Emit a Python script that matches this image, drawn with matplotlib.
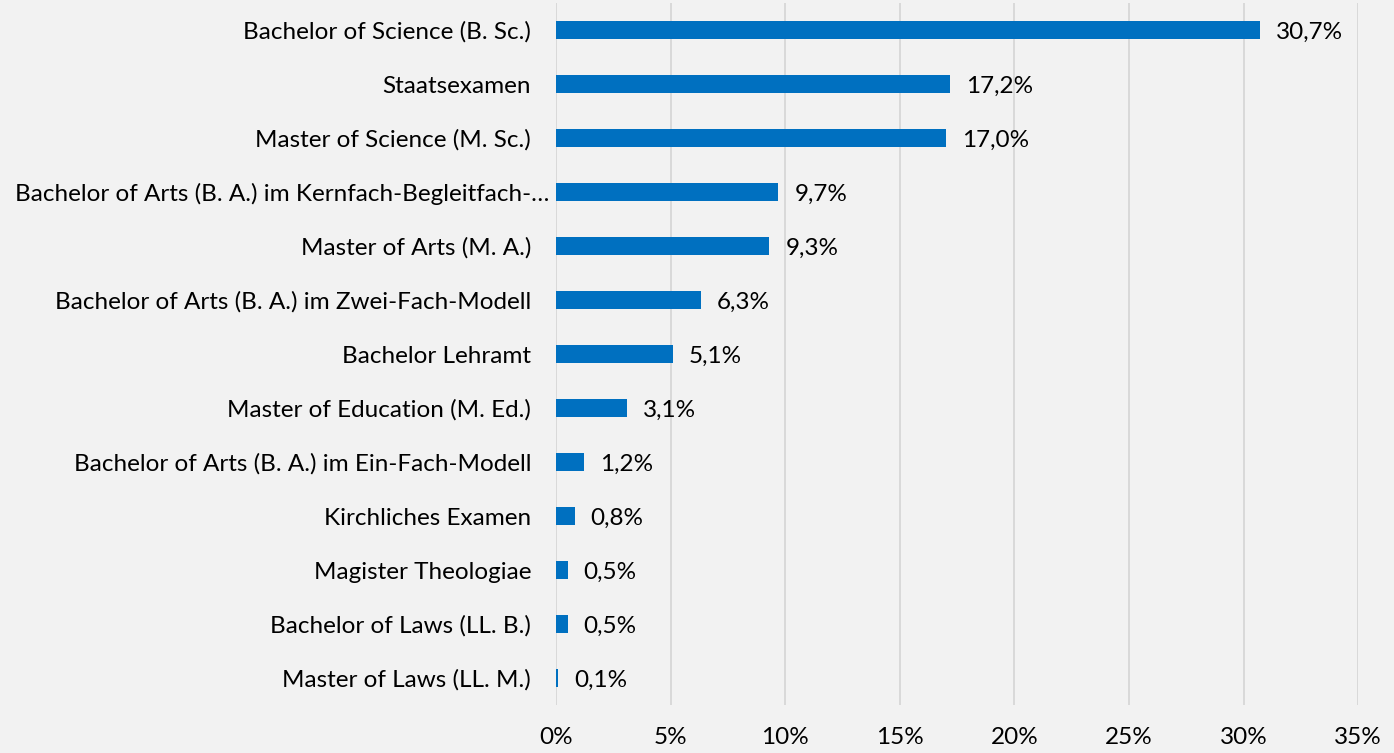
import matplotlib.pyplot as plt
from matplotlib.ticker import FuncFormatter

# Abschlussarten und Anteile (%)
abschluesse = [
    'Bachelor of Science (B. Sc.)',
    'Staatsexamen',
    'Master of Science (M. Sc.)',
    'Bachelor of Arts (B. A.) im Kernfach-Begleitfach-…',
    'Master of Arts (M. A.)',
    'Bachelor of Arts (B. A.) im Zwei-Fach-Modell',
    'Bachelor Lehramt',
    'Master of Education (M. Ed.)',
    'Bachelor of Arts (B. A.) im Ein-Fach-Modell',
    'Kirchliches Examen',
    'Magister Theologiae',
    'Bachelor of Laws (LL. B.)',
    'Master of Laws (LL. M.)',
]
anteile = [30.7, 17.2, 17.0, 9.7, 9.3, 6.3, 5.1, 3.1, 1.2, 0.8, 0.5, 0.5, 0.1]
x_ticks = [0, 5, 10, 15, 20, 25, 30, 35]

plt.rcParams['font.family'] = ['Lato', 'DejaVu Sans']
fs = 17.5

fig = plt.figure(figsize=(13.94, 7.53), dpi=100, facecolor='#f2f2f2')
ax = fig.add_axes([0.399, 0.0637, 0.5753, 0.9323])
ax.set_facecolor('#f2f2f2')

pos = list(range(len(abschluesse)))
ax.barh(pos, anteile, height=0.35, color='#0070c0', zorder=3)

for p, v in zip(pos, anteile):
    ax.text(v + 0.7, p + 0.05, f'{v:.1f}%'.replace('.', ','), va='center', ha='left',
            fontsize=fs, color='#000000')

ax.set_yticks(pos)
ax.set_yticklabels(abschluesse, fontsize=fs)
ax.set_ylim(len(abschluesse) - 0.5, -0.5)
ax.set_xlim(0, 35)
ax.set_xticks(x_ticks)
ax.xaxis.set_major_formatter(FuncFormatter(lambda x, _: f'{x:.0f}%'))
ax.tick_params(axis='x', labelsize=fs, length=0, pad=16)
ax.tick_params(axis='y', length=0, pad=18)
# der gekürzte Eintrag steht näher an der Achse
ax.yaxis.get_major_ticks()[3].set_pad(5)

ax.grid(axis='x', color='#d9d9d9', linewidth=1.4, zorder=0)
for s in ax.spines.values():
    s.set_visible(False)

plt.savefig('out.png', dpi=100, facecolor=fig.get_facecolor())
